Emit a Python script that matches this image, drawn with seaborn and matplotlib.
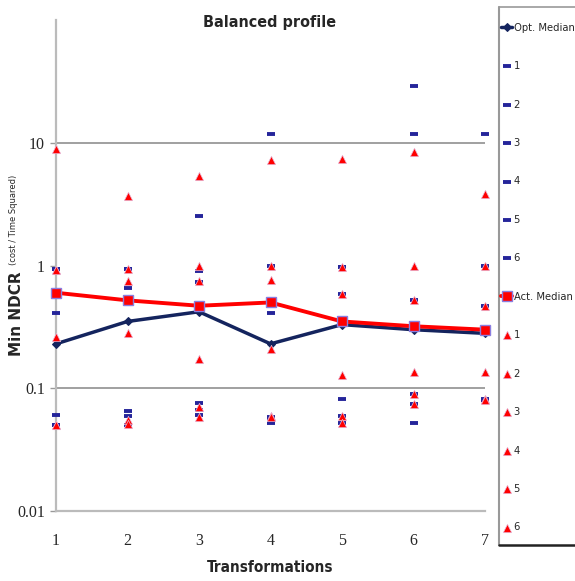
import seaborn as sns
import matplotlib.pyplot as plt
from matplotlib.lines import Line2D

sns.set_theme(style="white")
plt.rcParams['font.family'] = ['DejaVu Sans']

transforms = [1, 2, 3, 4, 5, 6, 7]

opt_median = [0.23, 0.35, 0.42, 0.23, 0.33, 0.30, 0.28]
act_median = [0.60, 0.52, 0.47, 0.50, 0.35, 0.32, 0.30]

# optimal cost per query set (navy dashes)
opt_1 = [0.93, 0.94, 2.54, 11.8, 0.97, 29.0, 11.8]
opt_2 = [0.93, 0.94, 0.90, 1.00, 0.97, 11.8, 1.00]
opt_3 = [0.41, 0.66, 0.73, 0.41, 0.59, 0.52, 0.47]
opt_4 = [0.060, 0.065, 0.076, 0.058, 0.081, 0.090, 0.081]
opt_5 = [0.050, 0.059, 0.066, 0.055, 0.059, 0.074, 0.080]
opt_6 = [0.050, 0.050, 0.060, 0.052, 0.052, 0.052, 0.080]

# actual cost per query set (red triangles)
act_1 = [8.9, 3.7, 5.4, 7.3, 7.4, 8.45, 3.84]
act_2 = [0.92, 0.94, 0.99, 1.00, 0.97, 1.00, 1.00]
act_3 = [0.92, 0.75, 0.75, 0.76, 0.59, 0.52, 0.47]
act_4 = [0.26, 0.28, 0.173, 0.21, 0.128, 0.135, 0.135]
act_5 = [0.050, 0.055, 0.071, 0.059, 0.059, 0.090, 0.081]
act_6 = [0.050, 0.051, 0.058, 0.058, 0.052, 0.074, 0.080]

opt_sets = [opt_1, opt_2, opt_3, opt_4, opt_5, opt_6]
act_sets = [act_1, act_2, act_3, act_4, act_5, act_6]
set_labels = ["1", "2", "3", "4", "5", "6"]

navy = "#14245e"
dash_blue = "#25259a"
red = "#ff0000"

W, H = 575, 581
fig = plt.figure(figsize=(W / 100, H / 100), dpi=100)
ax = fig.add_axes([56 / W, 1 - 511 / H, (485 - 56) / W, (511 - 20) / H])

sns.lineplot(x=transforms, y=opt_median, ax=ax, color=navy, lw=2.5, marker="D",
             markersize=4.5, mec=navy, label="Opt. Median", clip_on=False, zorder=3)
for vals, lab in zip(opt_sets, set_labels):
    sns.scatterplot(x=transforms, y=vals, ax=ax, color=dash_blue, marker="_", s=26,
                    linewidths=2.8, label=lab, clip_on=False, zorder=3)

sns.lineplot(x=transforms, y=act_median, ax=ax, color=red, lw=2.8, marker="s",
             markersize=7, mec="#8a7ee0", mew=1, label="Act. Median", clip_on=False, zorder=4)
for vals, lab in zip(act_sets, set_labels):
    sns.scatterplot(x=transforms, y=vals, ax=ax, color=red, marker="^", s=36,
                    edgecolor="#e8b8d8", linewidth=0.5, label=lab, clip_on=False, zorder=4)

ax.set_yscale("log")
ax.set_ylim(0.01, 100)
ax.set_xlim(1, 7)
ax.set_yticks([0.01, 0.1, 1, 10])
ax.set_yticklabels(["0.01", "0.1", "1", "10"])
ax.minorticks_off()
ax.set_xticks(transforms)
ax.set_xticklabels([str(t) for t in transforms])
for lab in ax.get_xticklabels() + ax.get_yticklabels():
    lab.set_family("Liberation Serif")
    lab.set_fontsize(11.5)
ax.tick_params(axis="y", length=4, width=1, color="#999999", pad=4, left=True)
ax.tick_params(axis="x", length=0, pad=16)

for v in [0.1, 10]:
    ax.axhline(v, color="#999999", lw=1.3, zorder=1)
for s in ["top", "right"]:
    ax.spines[s].set_visible(False)
for s in ["left", "bottom"]:
    ax.spines[s].set_color("#bbbbbb")
    ax.spines[s].set_linewidth(1.6)
ax.set_xlabel("")
ax.set_ylabel("")

handles, labels = ax.get_legend_handles_labels()
ax.legend_.remove()
fig.legend(handles, labels, loc="upper left", bbox_to_anchor=(499 / W, 1 - 21 / H),
           frameon=False, prop={"size": 8, "stretch": "condensed"}, labelspacing=2.56,
           handlelength=1.05, handletextpad=0.12, borderpad=0.15, borderaxespad=0)
fig.add_artist(Line2D([499 / W, 499 / W], [1 - 7 / H, 1 - 545 / H], color="#999999", lw=1.5))
fig.add_artist(Line2D([499 / W, 1], [1 - 7 / H, 1 - 7 / H], color="#999999", lw=1.2))
fig.add_artist(Line2D([499 / W, 1], [1 - 545 / H, 1 - 545 / H], color="#222222", lw=1.8))

fig.text(270 / W, 1 - 23 / H, "Balanced profile", ha="center", va="center",
         fontsize=11.5, fontweight="bold", fontstretch="condensed")
fig.text(270 / W, 1 - 567 / H, "Transformations", ha="center", va="center",
         fontsize=11, fontweight="bold", fontstretch="condensed")
fig.text(17 / W, 1 - 314 / H, "Min NDCR", rotation=90, ha="center", va="center",
         fontsize=11, fontweight="bold")
fig.text(14 / W, 1 - 220 / H, "(cost / Time Squared)", rotation=90, ha="center",
         va="center", fontsize=6)

fig.savefig("out.png", dpi=100)
